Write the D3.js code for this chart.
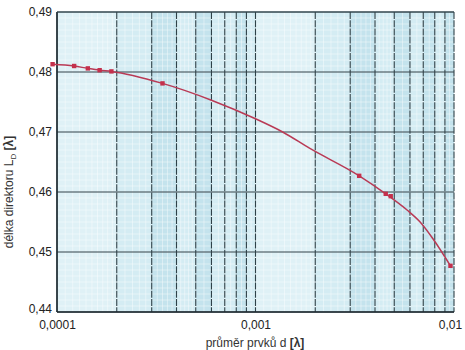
<!DOCTYPE html>
<html><head><meta charset="utf-8">
<script src="https://cdn.jsdelivr.net/npm/d3@7"></script>
<style>
body{margin:0;background:#fff;}
svg{display:block;font-family:"Liberation Sans",Arial,sans-serif;}
</style></head>
<body>
<svg id="c" width="465" height="350"></svg>
<script>
// ---- data ----
const xTickValues = [0.0001, 0.001, 0.01];
const xTickLabels = ["0,0001", "0,001", "0,01"];
const yTickValues = [0.44, 0.45, 0.46, 0.47, 0.48, 0.49];
const yTickLabels = ["0,44", "0,45", "0,46", "0,47", "0,48", "0,49"];
// marker points
const markerD = [0.000095, 0.000122, 0.000143, 0.000164, 0.000188, 0.00034, 0.00333, 0.00453, 0.0048, 0.0096];
const markerL = [0.4813, 0.4810, 0.4806, 0.4803, 0.4801, 0.4781, 0.4627, 0.4597, 0.4593, 0.4477];
// curve points
const curveD = [0.000095, 0.000122, 0.000143, 0.000164, 0.000188, 0.00034, 0.0006, 0.001, 0.00137, 0.00187, 0.00333, 0.00453, 0.0058, 0.00675, 0.0078, 0.0096];
const curveL = [0.4813, 0.4810, 0.4806, 0.4803, 0.4801, 0.4781, 0.4753, 0.4722, 0.4700, 0.4673, 0.4627, 0.4597, 0.4570, 0.4550, 0.4523, 0.4477];

const svg = d3.select("#c");
const x = d3.scaleLog().domain([0.0001, 0.01]).range([57, 454]);
const y = d3.scaleLinear().domain([0.44, 0.49]).range([312, 12]);
const x0 = x.range()[0], x1 = x.range()[1], y0 = y.range()[0], y1 = y.range()[1];

// background
svg.append("rect").attr("x", x0).attr("y", y1).attr("width", x1 - x0).attr("height", y0 - y1).attr("fill", "#d4ecf3");
// column shading (printed paper look)
const shade = [[0.0003,0.0004],[0.0005,0.0006],[0.0008,0.0009],[0.003,0.004],[0.005,0.006],[0.007,0.008],[0.009,0.01]];
svg.append("g").selectAll("rect").data(shade).join("rect")
  .attr("x", d => x(d[0])).attr("y", y1).attr("width", d => x(d[1]) - x(d[0])).attr("height", y0 - y1)
  .attr("fill", "#b9dde9").attr("opacity", 0.6);
const light = [[0.0001,0.0002],[0.001,0.002]];
svg.append("g").selectAll("rect").data(light).join("rect")
  .attr("x", d => x(d[0])).attr("y", y1).attr("width", d => x(d[1]) - x(d[0])).attr("height", y0 - y1)
  .attr("fill", "#e4f3f7").attr("opacity", 0.7);

// fine grid
const fineX = [];
[0.0001, 0.001].forEach(dec => {
  for (let m = 1; m < 10 - 1e-9; m += (m < 2 ? 0.1 : (m < 5 ? 0.2 : 0.5))) fineX.push(dec * m);
});
const fineY = d3.range(0.44, 0.49 + 1e-9, 0.001);
const fg = svg.append("g").attr("stroke", "#ffffff").attr("stroke-opacity", 0.7).attr("stroke-width", 0.6);
fg.selectAll("line.fx").data(fineX).join("line").attr("class", "fx")
  .attr("x1", d => x(d)).attr("x2", d => x(d)).attr("y1", y1).attr("y2", y0);
fg.selectAll("line.fy").data(fineY).join("line").attr("class", "fy")
  .attr("y1", d => y(d)).attr("y2", d => y(d)).attr("x1", x0).attr("x2", x1);

// major grid
const majorX = [];
[0.0001, 0.001].forEach(dec => { for (let m = 1; m <= 9; m++) majorX.push(dec * m); });
majorX.push(0.01);
const mg = svg.append("g").attr("stroke", "#2e4148").attr("stroke-width", 1.1);
mg.selectAll("line.mx").data(majorX).join("line").attr("class", "mx")
  .attr("x1", d => x(d)).attr("x2", d => x(d)).attr("y1", y1).attr("y2", y0)
  .attr("stroke-dasharray", d => (d === 0.0001 ? null : "7,1.2"));
mg.selectAll("line.my").data(yTickValues).join("line").attr("class", "my")
  .attr("y1", d => y(d)).attr("y2", d => y(d)).attr("x1", x0).attr("x2", x1);
// plot border
svg.append("line").attr("x1", x0).attr("x2", x0).attr("y1", y1).attr("y2", y0).attr("stroke", "#1e2a30").attr("stroke-width", 1.5);
svg.append("line").attr("x1", x0).attr("x2", x1).attr("y1", y0).attr("y2", y0).attr("stroke", "#1e2a30").attr("stroke-width", 1.5);
svg.append("line").attr("x1", x0).attr("x2", x1).attr("y1", y1).attr("y2", y1).attr("stroke", "#33474f").attr("stroke-width", 1);

// curve
const pts = curveD.map((d, i) => [d, curveL[i]]);
svg.append("path").datum(pts)
  .attr("d", d3.line().x(d => x(d[0])).y(d => y(d[1])).curve(d3.curveMonotoneX))
  .attr("fill", "none").attr("stroke", "#b93a55").attr("stroke-width", 1.5);
svg.append("g").selectAll("rect").data(markerD.map((d, i) => [d, markerL[i]])).join("rect")
  .attr("x", d => x(d[0]) - 2.2).attr("y", d => y(d[1]) - 2.2).attr("width", 4.4).attr("height", 4.4)
  .attr("fill", "#c4304c");

// axes
const ax = svg.append("g").attr("transform", `translate(0,${y0})`)
  .call(d3.axisBottom(x).tickValues(xTickValues).tickFormat((d, i) => xTickLabels[i]).tickSize(0).tickPadding(8));
ax.select(".domain").remove();
ax.selectAll("text").attr("font-size", 12).attr("fill", "#222").attr("font-family", "Liberation Sans, Arial, sans-serif");
ax.selectAll("text").filter((d, i) => i === 2).attr("dx", -4);

const ay = svg.append("g").attr("transform", `translate(${x0},0)`)
  .call(d3.axisLeft(y).tickValues(yTickValues).tickFormat((d, i) => yTickLabels[i]).tickSize(0).tickPadding(5));
ay.select(".domain").remove();
ay.selectAll("text").attr("font-size", 12).attr("fill", "#222").attr("font-family", "Liberation Sans, Arial, sans-serif");
ay.selectAll("text").filter((d, i) => i === 0).attr("dy", "0.05em");

// titles
const xt = svg.append("text").attr("x", 255).attr("y", 347).attr("text-anchor", "middle")
  .attr("font-size", 12).attr("fill", "#333");
xt.append("tspan").text("průměr prvků d ");
xt.append("tspan").attr("font-weight", "bold").text("[λ]");

const yt = svg.append("text").attr("transform", "translate(13,192) rotate(-90)").attr("text-anchor", "middle")
  .attr("font-size", 12).attr("fill", "#333");
yt.append("tspan").text("délka direktoru L");
yt.append("tspan").attr("font-size", 8).attr("dy", 3).text("D");
yt.append("tspan").attr("dy", -3).text(" ");
yt.append("tspan").attr("font-weight", "bold").text("[λ]");
</script>
</body></html>
